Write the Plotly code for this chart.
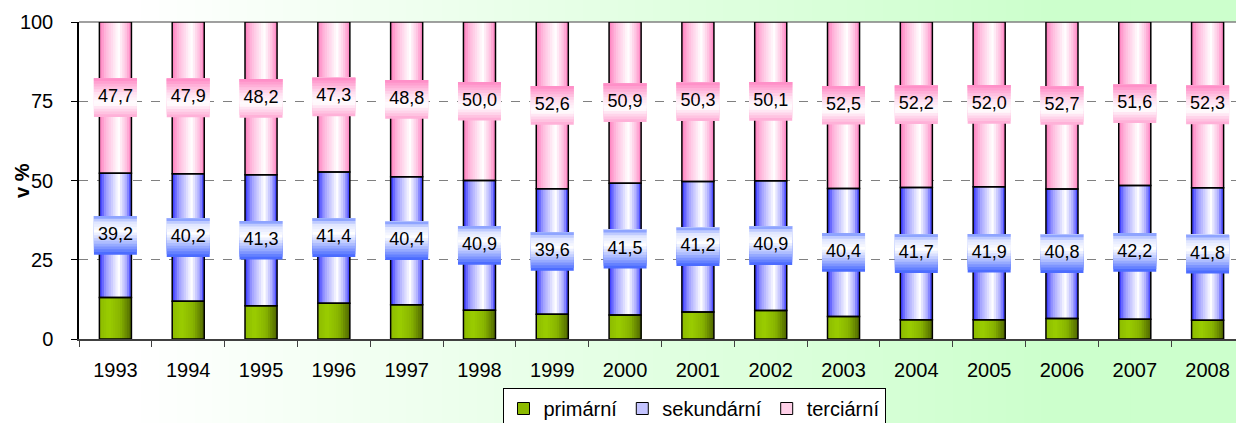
import plotly.graph_objects as go

# data (v %)
years = ["1993", "1994", "1995", "1996", "1997", "1998", "1999", "2000",
         "2001", "2002", "2003", "2004", "2005", "2006", "2007", "2008"]
primarni = [13.1, 11.9, 10.5, 11.3, 10.8, 9.1, 7.8, 7.6, 8.5, 9.0, 7.1, 6.1, 6.1, 6.5, 6.2, 5.9]
sekundarni = [39.2, 40.2, 41.3, 41.4, 40.4, 40.9, 39.6, 41.5, 41.2, 40.9, 40.4, 41.7, 41.9, 40.8, 42.2, 41.8]
terciarni = [47.7, 47.9, 48.2, 47.3, 48.8, 50.0, 52.6, 50.9, 50.3, 50.1, 52.5, 52.2, 52.0, 52.7, 51.6, 52.3]
y_ticks = [0, 25, 50, 75, 100]

FONT = "Liberation Sans, Arial, sans-serif"
BAR_W = 0.44
BOX_W = 0.59
BOX_H = 12.2

# layout in pixels (used to place the page background)
W, H = 1236, 423
ML, MT, MB = 79, 22, 84
PW, PH = W - ML, H - MT - MB


def hex2rgb(h):
    h = h.lstrip('#')
    return tuple(int(h[i:i + 2], 16) for i in (0, 2, 4))


def blend(stops, t):
    """Piecewise linear colour between (position, hex) stops."""
    for (p0, c0), (p1, c1) in zip(stops[:-1], stops[1:]):
        if t <= p1:
            f = 0 if p1 == p0 else (t - p0) / (p1 - p0)
            f = min(max(f, 0), 1)
            a, b = hex2rgb(c0), hex2rgb(c1)
            r = [round(a[k] + (b[k] - a[k]) * f) for k in range(3)]
            return 'rgb(%d,%d,%d)' % tuple(r)
    return 'rgb(%d,%d,%d)' % hex2rgb(stops[-1][1])


def add_gradient_bars(fig, x, base, height, stops, n=14):
    # horizontal gradient: strips from left to right, each one reaching the right edge
    for i in range(n):
        off = -BAR_W / 2 + i * BAR_W / n
        fig.add_trace(go.Bar(
            x=x, y=height, base=base, width=BAR_W / 2 - off, offset=off,
            marker=dict(color=blend(stops, (i + 0.5) / n), line=dict(width=0)),
            showlegend=False, hoverinfo='skip'))


def add_outline(fig, x, base, height):
    fig.add_trace(go.Bar(
        x=x, y=height, base=base, width=BAR_W, offset=-BAR_W / 2,
        marker=dict(color='rgba(0,0,0,0)', line=dict(color='black', width=1.5)),
        showlegend=False, hoverinfo='skip'))


def add_label_box(fig, x, mid, stops, m=14):
    # vertical gradient box behind the value label
    for j in range(m):
        lo = [c - BOX_H / 2 + j * BOX_H / m for c in mid]
        fig.add_trace(go.Bar(
            x=x, y=[BOX_H - j * BOX_H / m] * len(x), base=lo,
            width=BOX_W, offset=-BOX_W / 2,
            marker=dict(color=blend(stops, (j + 0.5) / m), line=dict(width=0)),
            showlegend=False, hoverinfo='skip'))


def fmt(v):
    return ('%.1f' % v).replace('.', ',')


base_sek = primarni
base_ter = [p + s for p, s in zip(primarni, sekundarni)]
zeros = [0] * len(years)
mid_sek = [b + v / 2 for b, v in zip(base_sek, sekundarni)]
mid_ter = [b + v / 2 for b, v in zip(base_ter, terciarni)]

green_h = [(0, '#8CBA00'), (0.3, '#9ACD00'), (0.65, '#88B400'), (1, '#4F6600')]
blue_h = [(0, '#3030FF'), (0.2, '#9A9AFF'), (0.6, '#FFFFFF'), (0.85, '#A8A8FF'), (1, '#3030FF')]
pink_h = [(0, '#FF7DBE'), (0.2, '#FFB8DC'), (0.6, '#FFFFFF'), (0.85, '#FFBCDE'), (1, '#FF7DBE')]
blue_box = [(0, '#3F62FF'), (0.3, '#A8B8FF'), (0.6, '#FFFFFF'), (0.85, '#DCE3FF'), (1, '#7590FF')]
pink_box = [(0, '#FFA8D4'), (0.35, '#FFFFFF'), (0.6, '#FFE2F1'), (1, '#FF88C4')]

fig = go.Figure()

add_gradient_bars(fig, years, zeros, primarni, green_h)
add_gradient_bars(fig, years, base_sek, sekundarni, blue_h)
add_gradient_bars(fig, years, base_ter, terciarni, pink_h)
add_outline(fig, years, zeros, primarni)
add_outline(fig, years, base_sek, sekundarni)
add_outline(fig, years, base_ter, terciarni)

add_label_box(fig, years, mid_sek, blue_box)
add_label_box(fig, years, mid_ter, pink_box)

for mids, vals in ((mid_sek, sekundarni), (mid_ter, terciarni)):
    fig.add_trace(go.Scatter(
        x=years, y=mids, mode='text', text=[fmt(v) for v in vals],
        textfont=dict(family=FONT, size=18, color='black'),
        showlegend=False, hoverinfo='skip', cliponaxis=False))

# legend-only entries
for name, col in (('primární', '#8CBA00'), ('sekundární', '#C4C4FF'), ('terciární', '#FFD0E8')):
    fig.add_trace(go.Bar(x=[None], y=[None], name=name,
                         marker=dict(color=col, line=dict(color='black', width=1))))

# page background: white -> light green, plot area white
shapes = []
nstrip = 70
x_left = -ML / PW
x_right = 1.05
y_top, y_bot = 1 + (MT + 5) / PH, -(MB + 5) / PH
bg_stops = [(0, '#FFFFFF'), (0.1, '#FFFFFF'), (0.85, '#CCFFCC'), (1, '#CCFFCC')]
for i in range(nstrip):
    x0 = x_left + i * (1 - x_left) / nstrip
    shapes.append(dict(type='rect', xref='paper', yref='paper', x0=x0, x1=x_right,
                       y0=y_bot, y1=y_top, line=dict(width=0), layer='below',
                       fillcolor=blend(bg_stops, (i + 0.5) / nstrip)))
shapes.append(dict(type='rect', xref='paper', yref='paper', x0=0, x1=1, y0=0, y1=1,
                   line=dict(width=0), fillcolor='white', layer='below'))
shapes.append(dict(type='line', xref='paper', yref='paper', x0=0, x1=1, y0=1, y1=1,
                   line=dict(color='#808080', width=1.5), layer='below'))

fig.update_layout(
    width=W, height=H,
    margin=dict(l=ML, r=0, t=MT, b=MB, autoexpand=False),
    barmode='overlay',
    paper_bgcolor='#CCFFCC', plot_bgcolor='white',
    font=dict(family=FONT, size=20, color='black'),
    shapes=shapes,
    showlegend=True,
    legend=dict(orientation='h', x=(694 - ML) / PW, xanchor='center',
                y=-(388 - MT - PH) / PH, yanchor='top',
                bgcolor='white', bordercolor='black', borderwidth=1,
                font=dict(family=FONT, size=20), traceorder='normal'),
    annotations=[dict(text='<b>v %</b>', textangle=-90, xref='paper', yref='paper',
                      x=(21.5 - ML) / PW, y=0.5, xanchor='center', yanchor='middle',
                      showarrow=False, font=dict(family=FONT, size=20))],
)

fig.update_xaxes(
    type='category', range=[-0.5, 15.5 - 8 / 72.8],
    showline=True, linecolor='#404040', linewidth=1.5,
    ticks='outside', ticklen=6, tickcolor='#404040', tickson='boundaries',
    ticklabelstandoff=12, showgrid=False, fixedrange=True, automargin=False,
)
fig.update_yaxes(
    range=[0, 100], tickvals=y_ticks, showline=True, linecolor='black', linewidth=1.5,
    ticks='outside', ticklen=6, tickcolor='black', ticklabelstandoff=14,
    showgrid=True, gridcolor='#808080', gridwidth=1, griddash='dash',
    zeroline=False, fixedrange=True, automargin=False,
)

# drop the default page margin so the figure fills the window exactly
fig.write_html(
    "out.html",
    config={'displayModeBar': False},
    post_script="document.body.style.margin='0';"
                "document.documentElement.style.overflow='hidden';"
                "document.body.style.overflow='hidden';"
                "document.documentElement.style.background='#CCFFCC';"
                "document.body.style.background='#CCFFCC';")
